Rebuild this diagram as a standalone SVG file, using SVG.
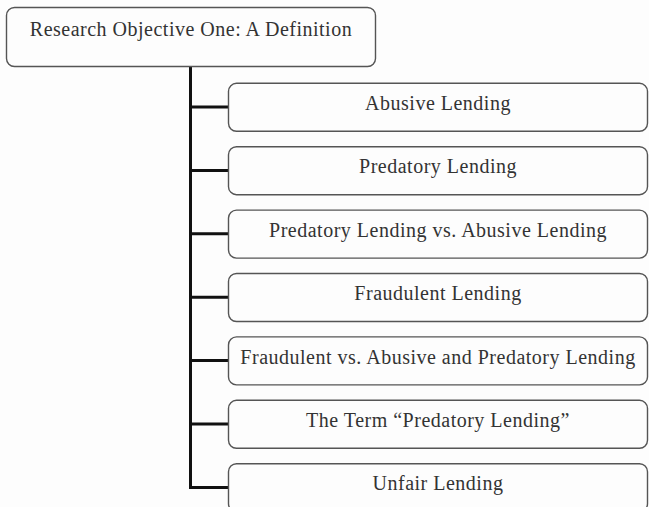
<svg xmlns="http://www.w3.org/2000/svg" width="649" height="507" viewBox="0 0 649 507">
<style>
.box{fill:#fdfdfd;stroke:#555;stroke-width:1.4}
.t{font-family:"Liberation Serif","Times New Roman",serif;font-size:20px;letter-spacing:0.5px;fill:#333;text-anchor:middle}
.c{fill:none;stroke:#111;stroke-width:3}
</style>
<rect width="649" height="507" fill="#fdfdfd"/>
<g id="connectors">
<path class="c" d="M190.5 67V487.5H229"/>
<path class="c" d="M190.5 107H229M190.5 170.4H229M190.5 233.8H229M190.5 297.2H229M190.5 360.6H229M190.5 424H229"/>
</g>
<g id="root"><rect class="box" x="6.5" y="7.5" width="369" height="59" rx="8"/><text class="t" x="191" y="36">Research Objective One: A Definition</text></g>
<g id="n1"><rect class="box" x="228.5" y="83.3" width="419" height="48" rx="8"/><text class="t" x="438" y="110">Abusive Lending</text></g>
<g id="n2"><rect class="box" x="228.5" y="146.7" width="419" height="48" rx="8"/><text class="t" x="438" y="173.4">Predatory Lending</text></g>
<g id="n3"><rect class="box" x="228.5" y="210.1" width="419" height="48" rx="8"/><text class="t" x="438" y="236.8">Predatory Lending vs. Abusive Lending</text></g>
<g id="n4"><rect class="box" x="228.5" y="273.5" width="419" height="48" rx="8"/><text class="t" x="438" y="300.2">Fraudulent Lending</text></g>
<g id="n5"><rect class="box" x="228.5" y="336.9" width="419" height="48" rx="8"/><text class="t" x="438" y="363.6">Fraudulent vs. Abusive and Predatory Lending</text></g>
<g id="n6"><rect class="box" x="228.5" y="400.3" width="419" height="48" rx="8"/><text class="t" x="438" y="427">The Term “Predatory Lending”</text></g>
<g id="n7"><rect class="box" x="228.5" y="463.7" width="419" height="48" rx="8"/><text class="t" x="438" y="490.4">Unfair Lending</text></g>
</svg>
